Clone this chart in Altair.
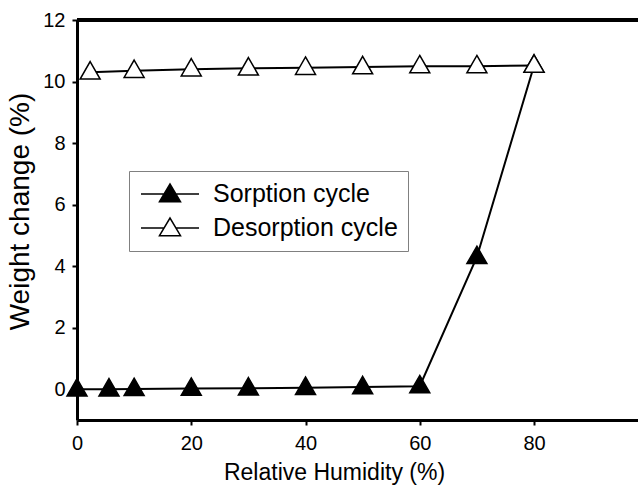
import altair as alt
import pandas as pd

# Data
sorption_rh = [0, 5.6, 10, 20, 30, 40, 50, 60, 70, 80]
sorption_wc = [0.0, 0.0, 0.01, 0.02, 0.03, 0.05, 0.07, 0.1, 4.3, 10.52]
desorption_rh = [2.3, 10, 20, 30, 40, 50, 60, 70, 80]
desorption_wc = [10.3, 10.35, 10.4, 10.43, 10.45, 10.47, 10.5, 10.5, 10.52]
series_names = ["Sorption cycle", "Desorption cycle"]
x_ticks = [0, 20, 40, 60, 80]
y_ticks = [0, 2, 4, 6, 8, 10, 12]

rows = []
for x, y in zip(sorption_rh, sorption_wc):
    rows.append({"rh": x, "wc": y, "cycle": series_names[0], "ord": 0})
for x, y in zip(desorption_rh, desorption_wc):
    rows.append({"rh": x, "wc": y, "cycle": series_names[1], "ord": 1})
df = pd.DataFrame(rows)

FONT = "Liberation Sans"
W, H = 561, 400

tri = "M0,-1.07L1,0.67L-1,0.67Z"
legend_sym = "M-2.42,0H-0.49M0.49,0H2.42M-0.875,0.64L0,-0.83L0.875,0.64Z"

xscale = alt.Scale(domain=[0, 98.2], nice=False, zero=False)
yscale = alt.Scale(domain=[-1, 12], nice=False, zero=False)

xaxis = alt.Axis(values=x_ticks, title="Relative Humidity (%)", grid=False,
                 domainColor="black", domainWidth=3, tickColor="black", tickWidth=2,
                 tickSize=5, labelFont=FONT, labelFontSize=20, labelColor="black",
                 labelPadding=8, titleFont=FONT, titleFontSize=23, titleFontWeight="normal",
                 titleColor="black", titleX=257, titleY=59, titleBaseline="alphabetic",
                 labelFlush=False)
yaxis = alt.Axis(values=y_ticks, title="Weight change (%)", grid=False,
                 domainColor="black", domainWidth=3, tickColor="black", tickWidth=2,
                 tickSize=5, labelFont=FONT, labelFontSize=20, labelColor="black",
                 labelPadding=7, titleFont=FONT, titleFontSize=28, titleFontWeight="normal",
                 titleColor="black", titleX=-57, titleY=191, titleBaseline="middle",
                 titleAlign="center", titleAngle=270, labelFlush=False)

base = alt.Chart(df)

lines = base.mark_line(color="black", strokeWidth=2).encode(
    x=alt.X("rh:Q", scale=xscale, axis=xaxis),
    y=alt.Y("wc:Q", scale=yscale, axis=yaxis),
    detail="cycle:N",
    order="rh:Q",
)

points = base.mark_point(shape=tri, size=400, stroke="black", strokeWidth=1.5,
                         opacity=1, filled=True, fillOpacity=1).encode(
    x=alt.X("rh:Q", scale=xscale),
    y=alt.Y("wc:Q", scale=yscale),
    fill=alt.Fill("cycle:N",
                  scale=alt.Scale(domain=series_names, range=["black", "white"]),
                  legend=alt.Legend(title=None, orient="none", legendX=52, legendY=151,
                                    symbolType=legend_sym, symbolSize=576,
                                    symbolStrokeColor="black", symbolStrokeWidth=1.5,
                                    symbolOpacity=1, symbolFillColor="black",
                                    labelFont=FONT, labelFontSize=25, labelColor="black",
                                    labelOffset=30, symbolOffset=18, rowPadding=8,
                                    padding=10, strokeColor="#808080", fillColor="white",
                                    labelLimit=400)),
    order="ord:Q",
)

top = alt.Chart(df).mark_rule(color="black", strokeWidth=3).encode(
    x=alt.value(0), x2=alt.value(W), y=alt.value(0)
)

chart = alt.layer(lines, points, top).properties(
    width=W, height=H,
    autosize=alt.AutoSizeParams(type="none"),
    padding={"left": 77, "top": 20, "right": 0, "bottom": 68},
).configure_view(stroke=None).configure(background="white")

chart.save("out.html", embed_options={"renderer": "svg", "actions": False})
